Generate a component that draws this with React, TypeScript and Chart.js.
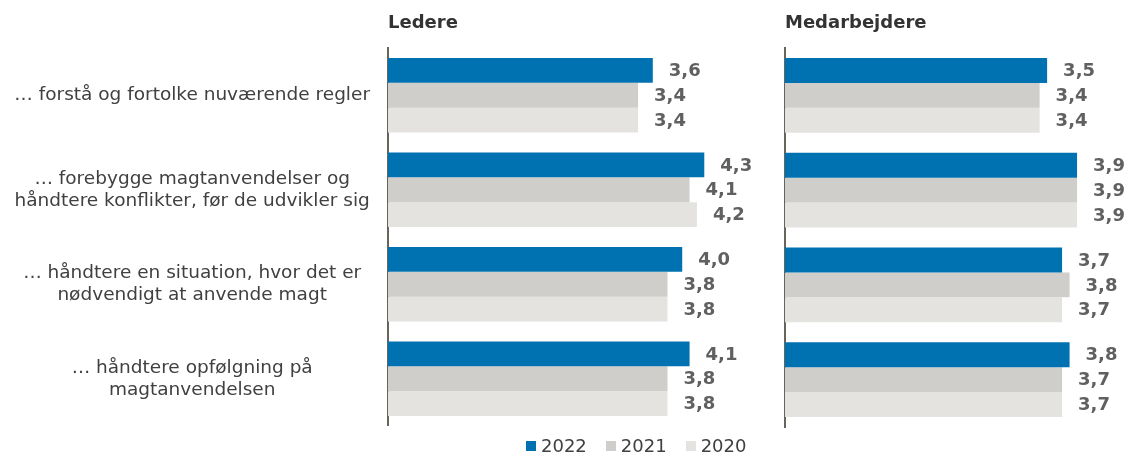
import { useEffect, useRef } from "react";
import { Chart, registerables } from "chart.js";

Chart.register(...registerables);

const categories: string[][] = [
  ["… forstå og fortolke nuværende regler"],
  ["… forebygge magtanvendelser og", "håndtere konflikter, før de udvikler sig"],
  ["… håndtere en situation, hvor det er", "nødvendigt at anvende magt"],
  ["… håndtere opfølgning på", "magtanvendelsen"],
];
const years = ["2022", "2021", "2020"];
const seriesColors = ["#0072B2", "#D0CECA", "#E4E3DF"];

const ledere2022 = [3.6, 4.3, 4.0, 4.1];
const ledere2021 = [3.4, 4.1, 3.8, 3.8];
const ledere2020 = [3.4, 4.2, 3.8, 3.8];

const medarb2022 = [3.5, 3.9, 3.7, 3.8];
const medarb2021 = [3.4, 3.9, 3.8, 3.7];
const medarb2020 = [3.4, 3.9, 3.7, 3.7];

const panelTitles = ["Ledere", "Medarbejdere"];
const xMin = 0;
const xMax = 4.5;

const FONT = "'DejaVu Sans', Verdana, sans-serif";

const valueLabels = {
  id: "valueLabels",
  afterDatasetsDraw(chart: any) {
    const ctx = chart.ctx;
    ctx.save();
    ctx.font = `bold 18px ${FONT}`;
    ctx.fillStyle = "#606060";
    ctx.textAlign = "left";
    ctx.textBaseline = "middle";
    chart.data.datasets.forEach((ds: any, i: number) => {
      const meta = chart.getDatasetMeta(i);
      meta.data.forEach((bar: any, j: number) => {
        const v = ds.data[j] as number;
        ctx.fillText(v.toFixed(1).replace(".", ","), bar.x + 16, bar.y + 1);
      });
    });
    ctx.restore();
  },
};

function buildConfig(
  title: string,
  data: number[][],
  showLabels: boolean,
  padding: { left: number; right: number }
): any {
  return {
    type: "bar",
    data: {
      labels: categories,
      datasets: years.map((y, i) => ({
        label: y,
        data: data[i],
        backgroundColor: seriesColors[i],
        borderWidth: 0,
        categoryPercentage: 0.79,
        barPercentage: 1,
      })),
    },
    options: {
      indexAxis: "y",
      responsive: false,
      animation: false,
      layout: { padding: { top: 0, bottom: 28, left: padding.left, right: padding.right } },
      plugins: {
        legend: { display: false },
        tooltip: { enabled: false },
        title: { display: false },
      },
      scales: {
        x: {
          position: "top",
          min: xMin,
          max: xMax,
          ticks: { display: false },
          grid: { display: false, drawTicks: false },
          border: { display: false },
          title: {
            display: true,
            text: title,
            align: "start",
            color: "#333333",
            font: { family: FONT, size: 18, weight: "bold" },
            padding: { top: 13, bottom: 13.4 },
          },
        },
        y: {
          position: "left",
          grid: { display: false, drawTicks: false },
          border: { display: true, color: "#67645e", width: 2 },
          ticks: {
            display: showLabels,
            crossAlign: "center",
            padding: 18,
            color: "#404040",
            font: { family: FONT, size: 18.5, lineHeight: 1.19 },
          },
          afterFit: (scale: any) => {
            scale.width = showLabels ? 388 : 0;
          },
        },
      },
    },
    plugins: [valueLabels],
  };
}

export default function App() {
  const leftRef = useRef<HTMLCanvasElement>(null);
  const rightRef = useRef<HTMLCanvasElement>(null);

  useEffect(() => {
    const left = new Chart(
      leftRef.current as HTMLCanvasElement,
      buildConfig(panelTitles[0], [ledere2022, ledere2021, ledere2020], true, { left: 0, right: 51 })
    );
    const right = new Chart(
      rightRef.current as HTMLCanvasElement,
      buildConfig(panelTitles[1], [medarb2022, medarb2021, medarb2020], false, { left: 15, right: 6 })
    );
    return () => {
      left.destroy();
      right.destroy();
    };
  }, []);

  return (
    <div
      style={{
        position: "absolute",
        left: 0,
        top: 0,
        width: 1128,
        height: 455,
        background: "#ffffff",
        overflow: "hidden",
      }}
    >
      <canvas
        ref={leftRef}
        width={770}
        height={455}
        style={{ position: "absolute", left: 0, top: 0, width: 770, height: 455 }}
      />
      <canvas
        ref={rightRef}
        width={358}
        height={455}
        style={{ position: "absolute", left: 770, top: 0, width: 358, height: 455 }}
      />
      <div
        style={{
          position: "absolute",
          left: 526,
          top: 435,
          display: "flex",
          alignItems: "center",
          fontFamily: FONT,
          fontSize: 18,
          lineHeight: "21px",
          color: "#404040",
        }}
      >
        {years.map((y, i) => (
          <div key={y} style={{ display: "flex", alignItems: "center", marginRight: i < years.length - 1 ? 19 : 0 }}>
            <span
              style={{
                display: "inline-block",
                width: 10,
                height: 10,
                background: seriesColors[i],
                marginRight: 5,
              }}
            />
            <span>{y}</span>
          </div>
        ))}
      </div>
    </div>
  );
}
